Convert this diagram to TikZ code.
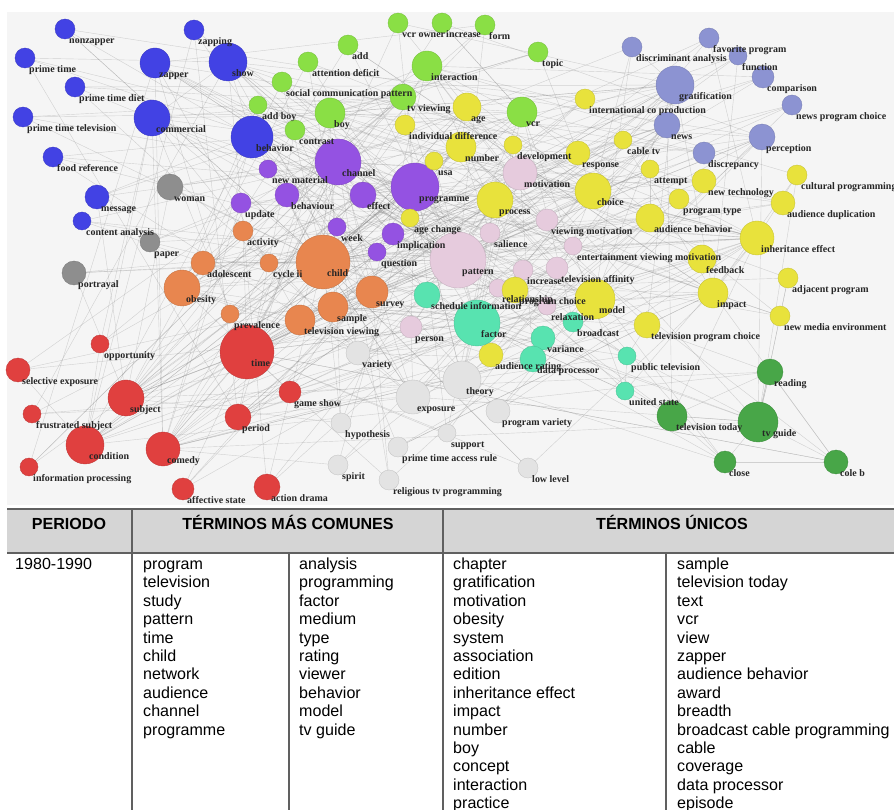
\documentclass[tikz,border=0pt]{standalone}
\usepackage{fontspec}
\setmainfont{Liberation Sans}
\newfontfamily\termfont{Liberation Serif}

\definecolor{tvblue}{HTML}{4242E4}
\definecolor{tvslate}{HTML}{8C93D2}
\definecolor{tvlime}{HTML}{8ADF45}
\definecolor{tvyellow}{HTML}{E8E23C}
\definecolor{tvpurple}{HTML}{9452E2}
\definecolor{tvpink}{HTML}{E6CBDD}
\definecolor{tvorange}{HTML}{E8864F}
\definecolor{tvred}{HTML}{E0403F}
\definecolor{tvgray}{HTML}{8E8E8E}
\definecolor{tvwhite}{HTML}{E3E3E3}
\definecolor{tvteal}{HTML}{58E3B0}
\definecolor{tvgreen}{HTML}{48A648}
\definecolor{graphbg}{HTML}{F5F5F5}
\definecolor{headfill}{HTML}{D5D5D5}
\definecolor{rulegray}{HTML}{606060}

\pgfdeclarelayer{background}
\pgfdeclarelayer{front}
\pgfsetlayers{background,main,front}

\tikzset{
	term/.style={circle, inner sep=0pt, draw=#1!85!black, line width=0.3pt, fill=#1},
	lbl/.style={anchor=west, inner sep=0pt, text=black!85, text height=1.5ex, text depth=.25ex,
		font=\termfont\bfseries\fontsize{8.5}{10}\selectfont},
	edge/.style={draw=black!45, draw opacity=0.35, line width=0.35pt},
	rule/.style={draw=rulegray, line width=1pt},
	head/.style={anchor=base, inner sep=0pt, font=\bfseries\fontsize{13.7}{16}\selectfont},
	cell/.style={anchor=base west, inner sep=0pt, font=\fontsize{13.7}{16}\selectfont}
}

\def\termlist{
	nonzapper/65/29/10/tvblue/nonzapper,
	zapping/194/30/10/tvblue/zapping,
	primetime/25/58/10/tvblue/prime time,
	zapper/155/63/15/tvblue/zapper,
	show/228/62/19/tvblue/show,
	ptdiet/75/87/10/tvblue/prime time diet,
	pttv/23/117/10/tvblue/prime time television,
	commercial/152/118/18/tvblue/commercial,
	behavior/252/137/21/tvblue/behavior,
	foodref/53/157/10/tvblue/food reference,
	message/97/197/12/tvblue/message,
	contentan/82/221/9/tvblue/content analysis,
	woman/170/187/13/tvgray/woman,
	paper/150/242/10/tvgray/paper,
	portrayal/74/273/12/tvgray/portrayal,
	discrim/632/47/10/tvslate/discriminant analysis,
	favprog/709/38/10/tvslate/favorite program,
	function/738/56/9/tvslate/function,
	comparison/763/77/11/tvslate/comparison,
	gratif/675/85/19/tvslate/gratification,
	newsprog/792/105/10/tvslate/news program choice,
	news/667/125/13/tvslate/news,
	perception/762/137/13/tvslate/perception,
	discrep/704/153/11/tvslate/discrepancy,
	vcrowner/398/23/10/tvlime/vcr owner,
	increaseg/442/23/10/tvlime/increase,
	form/485/25/10/tvlime/form,
	add/348/45/10/tvlime/add,
	topic/538/52/10/tvlime/topic,
	attdef/308/62/10/tvlime/attention deficit,
	interaction/427/66/15/tvlime/interaction,
	socpattern/282/82/10/tvlime/social communication pattern,
	tvviewing/403/97/13/tvlime/tv viewing,
	vcr/522/112/15/tvlime/vcr,
	boy/330/113/15/tvlime/boy,
	addboy/258/105/9/tvlime/add boy,
	contrast/295/130/10/tvlime/contrast,
	channel/338/162/23/tvpurple/channel,
	programme/415/187/24/tvpurple/programme,
	newmat/268/169/9/tvpurple/new material,
	behaviour/287/195/12/tvpurple/behaviour,
	effect/363/195/13/tvpurple/effect,
	update/241/203/10/tvpurple/update,
	week/337/227/9/tvpurple/week,
	implication/393/234/11/tvpurple/implication,
	question/377/252/9/tvpurple/question,
	activity/243/231/10/tvorange/activity,
	child/323/262/27/tvorange/child,
	adolescent/203/263/12/tvorange/adolescent,
	cycle/269/263/9/tvorange/cycle ii,
	obesity/182/288/18/tvorange/obesity,
	survey/372/292/16/tvorange/survey,
	prevalence/230/314/9/tvorange/prevalence,
	sample/333/307/15/tvorange/sample,
	tvview/300/320/15/tvorange/television viewing,
	time/247/352/27/tvred/time,
	opportunity/100/344/9/tvred/opportunity,
	selexp/18/370/12/tvred/selective exposure,
	subject/126/398/18/tvred/subject,
	gameshow/290/392/11/tvred/game show,
	frustrated/32/414/9/tvred/frustrated subject,
	period/238/417/13/tvred/period,
	condition/85/445/19/tvred/condition,
	comedy/163/449/17/tvred/comedy,
	infoproc/29/467/9/tvred/information processing,
	affective/183/489/11/tvred/affective state,
	actiondrama/267/487/13/tvred/action drama,
	variety/358/353/12/tvwhite/variety,
	theory/462/380/19/tvwhite/theory,
	exposure/413/397/17/tvwhite/exposure,
	progvariety/498/411/12/tvwhite/program variety,
	hypothesis/341/423/10/tvwhite/hypothesis,
	support/447/433/9/tvwhite/support,
	ptaccess/398/447/10/tvwhite/prime time access rule,
	lowlevel/528/468/10/tvwhite/low level,
	spirit/338/465/10/tvwhite/spirit,
	religious/389/480/10/tvwhite/religious tv programming,
	pattern/458/260/28/tvpink/pattern,
	motivation/520/173/17/tvpink/motivation,
	salience/490/233/10/tvpink/salience,
	viewmot/547/220/11/tvpink/viewing motivation,
	entmot/573/246/9/tvpink/entertainment viewing motivation,
	increasep/523/270/10/tvpink/increase,
	affinity/557/268/11/tvpink/television affinity,
	relation/498/288/9/tvpink/relationship,
	relaxation/547/306/9/tvpink/relaxation,
	person/411/327/11/tvpink/person,
	age/467/107/14/tvyellow/age,
	inddiff/405/125/10/tvyellow/individual difference,
	number/461/147/15/tvyellow/number,
	development/513/145/9/tvyellow/development,
	intcoprod/585/99/10/tvyellow/international co production,
	usa/434/161/9/tvyellow/usa,
	response/578/153/12/tvyellow/response,
	cabletv/623/140/9/tvyellow/cable tv,
	process/495/200/18/tvyellow/process,
	choice/593/191/18/tvyellow/choice,
	attempt/650/169/9/tvyellow/attempt,
	newtech/704/181/12/tvyellow/new technology,
	cultprog/797/175/10/tvyellow/cultural programming,
	progtype/679/199/10/tvyellow/program type,
	agechange/410/218/9/tvyellow/age change,
	audbeh/650/218/14/tvyellow/audience behavior,
	auddup/783/203/12/tvyellow/audience duplication,
	inheritance/757/238/17/tvyellow/inheritance effect,
	feedback/702/259/14/tvyellow/feedback,
	progchoice/515/290/13/tvyellow/program choice,
	model/595/299/20/tvyellow/model,
	adjacent/788/278/10/tvyellow/adjacent program,
	impact/713/293/15/tvyellow/impact,
	newmedia/780/316/10/tvyellow/new media environment,
	tvprogchoice/647/325/13/tvyellow/television program choice,
	audrating/491/355/12/tvyellow/audience rating,
	schedinfo/427/295/13/tvteal/schedule information,
	factor/477/323/23/tvteal/factor,
	variance/543/338/12/tvteal/variance,
	broadcast/573/322/10/tvteal/broadcast,
	dataproc/533/359/13/tvteal/data processor,
	publictv/627/356/9/tvteal/public television,
	unitedstate/625/391/9/tvteal/united state,
	reading/770/372/13/tvgreen/reading,
	tvtoday/672/416/15/tvgreen/television today,
	tvguide/758/422/20/tvgreen/tv guide,
	close/725/462/11/tvgreen/close,
	coleb/836/462/12/tvgreen/cole b
}

\pgfmathdeclarerandomlist{hubs}{{pattern}{pattern}{child}{child}{time}{time}{programme}{channel}{factor}{theory}{exposure}{process}{choice}{model}{motivation}{behavior}{commercial}{show}{gratif}{number}{obesity}{subject}{condition}{interaction}{effect}{impact}{inheritance}{audbeh}{survey}{vcr}{age}{zapper}{comedy}{news}{variety}{sample}{tvview}{period}{boy}{tvviewing}{tvguide}{perception}}

\begin{document}
\begin{tikzpicture}[x=0.3mm, y=-0.3mm]
	\useasboundingbox (0,0) rectangle (894,810);
	\pgfmathsetseed{11}
	\foreach \nm/\px/\py/\rad/\col/\lab in \termlist {
		\node[term=\col, minimum size=\rad*0.6mm] (\nm) at (\px,\py) {};
		\begin{pgfonlayer}{front}
			\node[lbl] (\nm-l) at (\px+4,\py+10.5) {\lab};
		\end{pgfonlayer}
	}
	\begin{pgfonlayer}{background}
		\fill[graphbg] (7,12) rectangle (894,505);
		\foreach \nm/\px/\py/\rad/\col/\lab in \termlist
			\foreach \k in {1,...,4} {
				\pgfmathrandomitem{\hb}{hubs}
				\draw[edge] (\nm.center) -- (\hb.center);
			}
		\foreach \a/\b in {tvguide/close, tvguide/coleb, close/coleb, reading/tvguide, reading/coleb, tvtoday/tvguide, tvtoday/close, unitedstate/tvtoday, publictv/unitedstate, reading/tvtoday, publictv/tvprogchoice, unitedstate/factor}
			\draw[edge] (\a.center) -- (\b.center);
	\end{pgfonlayer}

	\fill[headfill] (7,509) rectangle (894,553);
	\draw[rule] (7,509) -- (894,509) (7,553) -- (894,553) (132,509) -- (132,810) (443,509) -- (443,810) (289,553) -- (289,810) (666,553) -- (666,810);
	\node[head] (hperiod) at (69,530) {PERIODO};
	\node[head] (hcommon) at (288,530) {TÉRMINOS MÁS COMUNES};
	\node[head] (hunique) at (672,530) {TÉRMINOS ÚNICOS};
	\node[cell] (period1) at (15,569.5) {1980-1990};
	\foreach \w [count=\i] in {program,television,study,pattern,time,child,network,audience,channel,programme}
		\node[cell] (ca\i) at (143,{569.5+18.4*(\i-1)}) {\w};
	\foreach \w [count=\i] in {analysis,programming,factor,medium,type,rating,viewer,behavior,model,tv guide}
		\node[cell] (cb\i) at (299,{569.5+18.4*(\i-1)}) {\w};
	\foreach \w [count=\i] in {chapter,gratification,motivation,obesity,system,association,edition,inheritance effect,impact,number,boy,concept,interaction,practice}
		\node[cell] (ua\i) at (453,{569.5+18.4*(\i-1)}) {\w};
	\foreach \w [count=\i] in {sample,television today,text,vcr,view,zapper,audience behavior,award,breadth,broadcast cable programming,cable,coverage,data processor,episode}
		\node[cell] (ub\i) at (677,{569.5+18.4*(\i-1)}) {\w};
\end{tikzpicture}
\end{document}
